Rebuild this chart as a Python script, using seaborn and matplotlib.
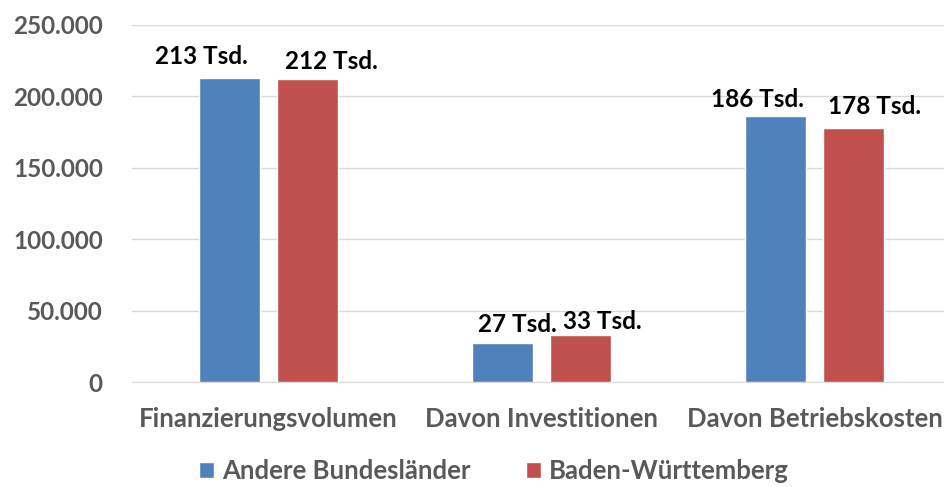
import matplotlib.pyplot as plt
import seaborn as sns
import pandas as pd

# Data
categories = ['Finanzierungsvolumen', 'Davon Investitionen', 'Davon Betriebskosten']
series = ['Andere Bundesländer', 'Baden-Württemberg']
andere = [213000, 27000, 186000]
bawue = [212000, 33000, 178000]
labels_andere = ['213 Tsd.', '27 Tsd.', '186 Tsd.']
labels_bawue = ['212 Tsd.', '33 Tsd.', '178 Tsd.']

df = pd.DataFrame({
    'Kategorie': categories * 2,
    'Serie': [series[0]] * 3 + [series[1]] * 3,
    'Wert': andere + bawue,
})

sns.set_style('white')
plt.rcParams['font.family'] = ['Lato', 'DejaVu Sans']
plt.rcParams['font.weight'] = 'bold'

fig = plt.figure(figsize=(9.44, 4.87), dpi=100)
ax = fig.add_axes([132 / 944, 1 - 382 / 487, (951 - 132) / 944, (382 - 25) / 487])

palette = {series[0]: '#4F81BD', series[1]: '#C0504D'}
sns.barplot(data=df, x='Kategorie', y='Wert', hue='Serie', palette=palette,
            width=0.572, gap=0.22, saturation=1, ax=ax, zorder=3)

ax.set_ylim(0, 250000)
ax.set_yticks(range(0, 250001, 50000))
ax.set_yticklabels(['0' if v == 0 else f'{v:,}'.replace(',', '.') for v in range(0, 250001, 50000)])
ax.grid(axis='y', color='#D9D9D9', linewidth=1, zorder=0)
for s in ['top', 'right', 'left']:
    ax.spines[s].set_visible(False)
ax.spines['bottom'].set_color('#D9D9D9')
ax.set_xlabel('')
ax.set_ylabel('')
ax.tick_params(axis='y', length=0, pad=21, labelsize=17.5, labelcolor='#595959')
ax.tick_params(axis='x', length=0, pad=18, labelsize=18.5, labelcolor='#595959')

# data labels, nudged like in the original
offsets = [(-28, 21), (15, 19), (-18, 17), (24, 18), (22, 13), (21, 21)]
texts = labels_andere + labels_bawue
for patch, txt, (dx, dy) in zip(ax.patches[:6], texts, offsets):
    x = patch.get_x() + patch.get_width() / 2
    y = patch.get_height()
    ax.annotate(txt, (x, y), xytext=(dx, dy), textcoords='offset pixels',
                ha='center', va='center', fontsize=17.5, fontweight='bold', color='black')

leg = ax.legend(loc='center', bbox_to_anchor=(494 / 944, 1 - 471 / 487), bbox_transform=fig.transFigure,
                ncol=2, frameon=False, fontsize=18.5, handlelength=0.6, handleheight=0.6,
                handletextpad=0.3, columnspacing=2.15)
for t in leg.get_texts():
    t.set_color('#595959')

fig.savefig('out.png', dpi=100)
